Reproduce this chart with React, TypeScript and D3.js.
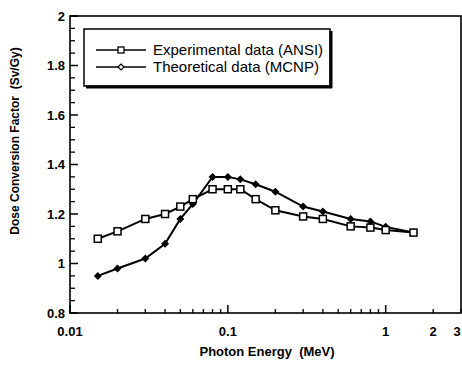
import * as d3 from 'd3';

// photon energies (MeV) shared by both series
const energy = [0.015, 0.02, 0.03, 0.04, 0.05, 0.06, 0.08, 0.1, 0.12, 0.15, 0.2, 0.3, 0.4, 0.6, 0.8, 1, 1.5];
const ansi = [1.10, 1.13, 1.18, 1.20, 1.23, 1.26, 1.30, 1.30, 1.30, 1.26, 1.215, 1.19, 1.18, 1.15, 1.145, 1.135, 1.125];
const mcnp = [0.95, 0.98, 1.02, 1.08, 1.18, 1.24, 1.35, 1.35, 1.34, 1.32, 1.29, 1.23, 1.21, 1.18, 1.17, 1.148, 1.125];

const xLabels = [0.01, 0.1, 1, 2, 3];
const xMajor = [0.01, 0.1, 1];
const yLabels = [0.8, 1, 1.2, 1.4, 1.6, 1.8, 2];

const legendNames = ['Experimental data (ANSI)', 'Theoretical data (MCNP)'];

const W = 462;
const H = 368;
const font = 'Liberation Sans, Arial, Helvetica, sans-serif';

export default function App() {
  const x = d3.scaleLog().domain([0.01, 3]).range([70, 461]);
  const y = d3.scaleLinear().domain([0.8, 2]).range([313, 16]);

  const [x0, x1] = x.range();
  const [yb, yt] = y.range();

  const line = d3
    .line<number>()
    .x((_, i) => x(energy[i]))
    .y((d) => y(d));

  const xMinor = x.ticks().filter((t) => !xMajor.some((m) => Math.abs(m - t) < 1e-9));
  const yMinor = d3.range(0.8, 2.0001, 0.05).filter((v) => !yLabels.some((m) => Math.abs(m - v) < 1e-6));

  const diamond = (cx: number, cy: number, r: number) =>
    `M${cx},${cy - r}L${cx + r},${cy}L${cx},${cy + r}L${cx - r},${cy}Z`;

  return (
    <svg width={W} height={H} style={{ position: 'absolute', left: 0, top: 0, background: '#fff' }} fontFamily={font}>
      {/* frame */}
      <rect x={x0} y={yt} width={x1 - x0} height={yb - yt} fill="none" stroke="#000" strokeWidth={1.6} />

      {/* x ticks */}
      {xMajor.map((t) => (
        <line key={'xM' + t} x1={x(t)} x2={x(t)} y1={yb} y2={yb - 8} stroke="#000" strokeWidth={1.5} />
      ))}
      {xMinor.map((t) => (
        <line key={'xm' + t} x1={x(t)} x2={x(t)} y1={yb} y2={yb - 4} stroke="#000" strokeWidth={1.3} />
      ))}
      {xLabels.map((t) => (
        <text
          key={'xl' + t}
          x={x(t) >= x1 - 1 ? x(t) - 4 : x(t)}
          y={336}
          textAnchor="middle"
          fontSize={13}
          fontWeight="bold"
        >
          {String(t)}
        </text>
      ))}

      {/* y ticks */}
      {yLabels.map((v) => (
        <line key={'yM' + v} x1={x0} x2={x0 + 8} y1={y(v)} y2={y(v)} stroke="#000" strokeWidth={1.5} />
      ))}
      {yMinor.map((v) => (
        <line key={'ym' + v} x1={x0} x2={x0 + 5} y1={y(v)} y2={y(v)} stroke="#000" strokeWidth={1.3} />
      ))}
      {yLabels.map((v) => (
        <text key={'yl' + v} x={65} y={y(v) + 4.5} textAnchor="end" fontSize={13} fontWeight="bold">
          {d3.format('~g')(v)}
        </text>
      ))}

      {/* axis titles */}
      <text x={267} y={356} textAnchor="middle" fontSize={13} fontWeight="bold" style={{ whiteSpace: 'pre' }}>
        {'Photon Energy  (MeV)'}
      </text>
      <text
        transform="translate(19,141) rotate(-90)"
        textAnchor="middle"
        fontSize={12}
        fontWeight="bold"
        style={{ whiteSpace: 'pre' }}
      >
        {'Dose Conversion Factor  (Sv/Gy)'}
      </text>

      {/* series */}
      <path d={line(mcnp) ?? ''} fill="none" stroke="#000" strokeWidth={2} />
      <path d={line(ansi) ?? ''} fill="none" stroke="#000" strokeWidth={2} />
      {mcnp.map((v, i) => (
        <path key={'d' + i} d={diamond(x(energy[i]), y(v), 4)} fill="#000" />
      ))}
      {ansi.map((v, i) => (
        <rect
          key={'s' + i}
          x={x(energy[i]) - 3.5}
          y={y(v) - 3.5}
          width={7}
          height={7}
          fill="#fff"
          stroke="#000"
          strokeWidth={1.5}
        />
      ))}

      {/* legend */}
      <g>
        <rect x={84} y={29} width={246} height={57} fill="#fff" stroke="#000" strokeWidth={1.5} />
        <line x1={331} x2={331} y1={31} y2={88} stroke="#000" strokeWidth={3} />
        <line x1={86} x2={332} y1={87} y2={87} stroke="#000" strokeWidth={3} />
        {legendNames.map((name, i) => {
          const ly = 50 + i * 17;
          return (
            <g key={name}>
              <line x1={96} x2={146} y1={ly} y2={ly} stroke="#000" strokeWidth={1.5} />
              {i === 0 ? (
                <rect x={118} y={ly - 3} width={6} height={6} fill="#fff" stroke="#000" strokeWidth={1.3} />
              ) : (
                <path d={diamond(121, ly, 3)} fill="#fff" stroke="#000" strokeWidth={1.2} />
              )}
              <text x={153} y={ly + 5} fontSize={15}>
                {name}
              </text>
            </g>
          );
        })}
      </g>
    </svg>
  );
}
